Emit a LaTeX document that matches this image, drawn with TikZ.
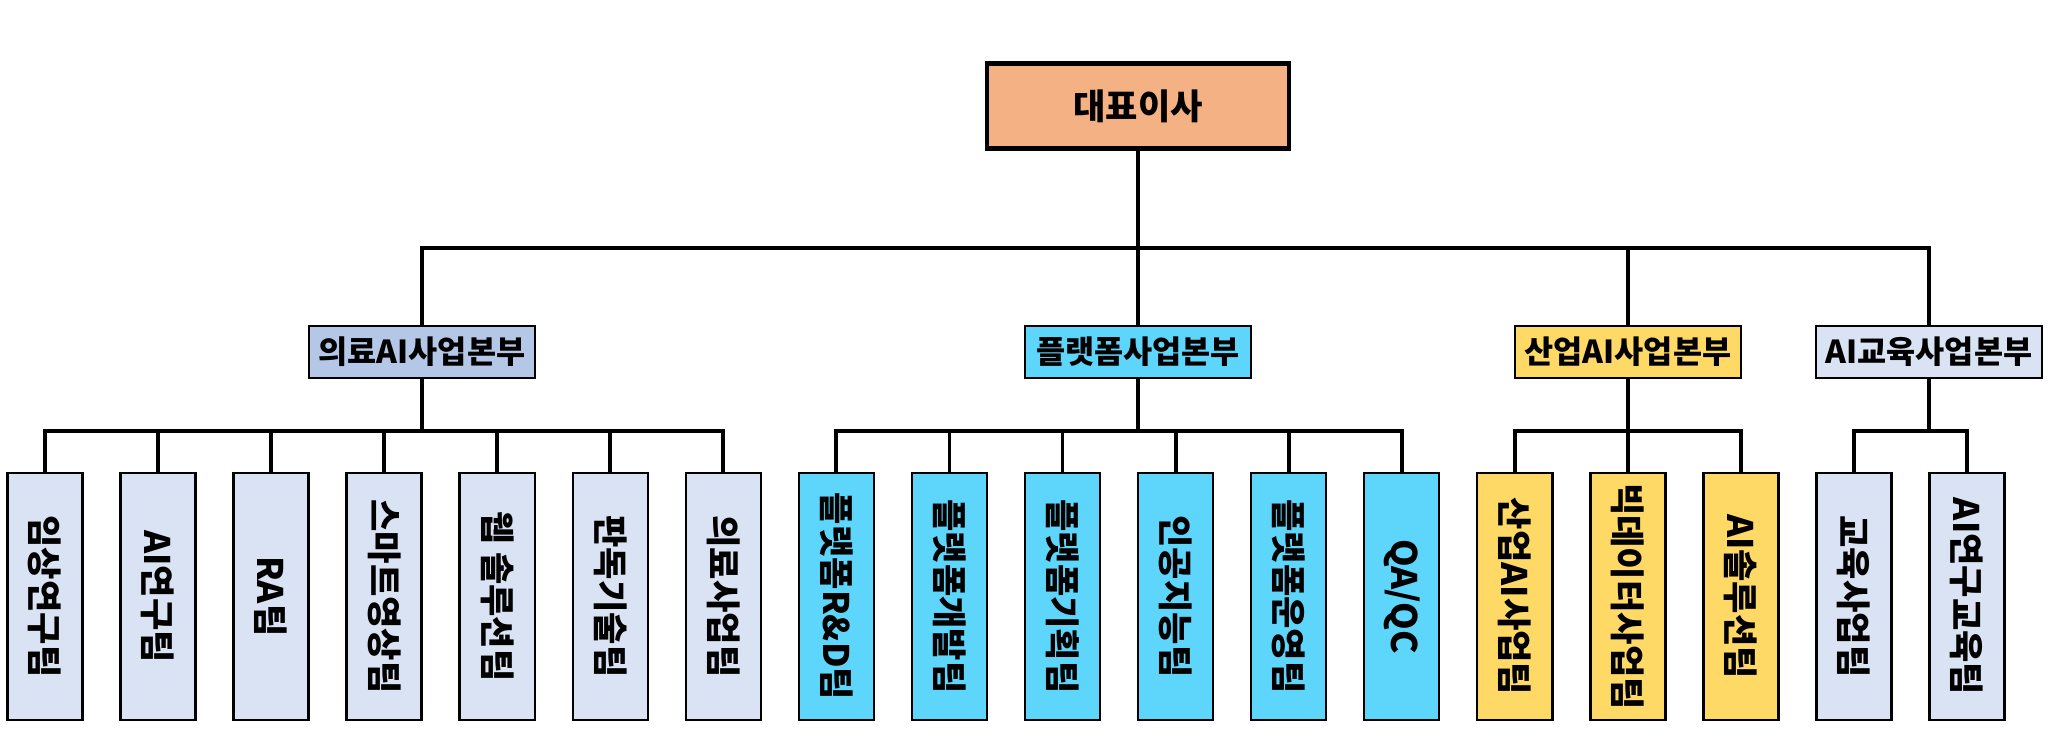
\documentclass[tikz,border=0pt]{standalone}
\usepackage{fontspec}
\setmainfont{Noto Sans CJK KR}

\definecolor{ceofill}{RGB}{244,177,131}
\definecolor{medfill}{RGB}{180,199,231}
\definecolor{palefill}{RGB}{218,227,243}
\definecolor{platfill}{RGB}{94,214,252}
\definecolor{indfill}{RGB}{255,217,102}

\tikzset{
  ceobox/.style={draw, line width=1.2pt, fill=ceofill, minimum width=3.02cm,
    minimum height=0.85cm, inner sep=0pt, font=\bfseries\fontsize{10}{12}\selectfont},
  divbox/.style={draw, line width=0.7pt, minimum width=2.26cm, minimum height=0.52cm,
    inner sep=0pt, font=\bfseries\fontsize{9}{11}\selectfont},
  teambox/.style={draw, line width=0.7pt, minimum width=0.75cm, minimum height=2.47cm,
    inner sep=0pt, font=\bfseries\fontsize{10}{12}\selectfont},
  conn/.style={line width=1.1pt}
}

\begin{document}
\begin{tikzpicture}[x=0.01cm, y=-0.01cm]
    \useasboundingbox (0,0) rectangle (2050,741);

    % 대표이사
    \node[ceobox] (ceo) at (1138,106) {대표이사};

    % 사업본부
    \node[divbox, fill=medfill]  (d1) at (422,352)  {의료AI사업본부};
    \node[divbox, fill=platfill] (d2) at (1138,352) {플랫폼사업본부};
    \node[divbox, fill=indfill]  (d3) at (1628,352) {산업AI사업본부};
    \node[divbox, fill=palefill] (d4) at (1929,352) {AI교육사업본부};

    \coordinate (bus) at (0,248);
    \coordinate (sub) at (0,431);
    \foreach \d in {d1,d2,d3,d4}
        \draw[conn] (ceo.south) |- (bus -| \d.north) -- (\d.north);

    % 팀
    \foreach \i/\txt/\col/\d in {
        0/임상연구팀/palefill/d1, 1/AI연구팀/palefill/d1, 2/RA팀/palefill/d1,
        3/스마트영상팀/palefill/d1, 4/웹 솔루션팀/palefill/d1, 5/판독기술팀/palefill/d1,
        6/의료사업팀/palefill/d1,
        7/플랫폼R\&D팀/platfill/d2, 8/플랫폼개발팀/platfill/d2, 9/플랫폼기획팀/platfill/d2,
        10/인공지능팀/platfill/d2, 11/플랫폼운영팀/platfill/d2, 12/{QA/QC}/platfill/d2,
        13/산업AI사업팀/indfill/d3, 14/빅데이터사업팀/indfill/d3, 15/AI솔루션팀/indfill/d3,
        16/교육사업팀/palefill/d4, 17/AI연구교육팀/palefill/d4} {
        \node[teambox, fill=\col] (t\i) at ({45+113.06*\i},596.5) {\rotatebox{-90}{\txt}};
        \draw[conn] (\d.south) |- (sub -| t\i.north) -- (t\i.north);
    }
\end{tikzpicture}
\end{document}
